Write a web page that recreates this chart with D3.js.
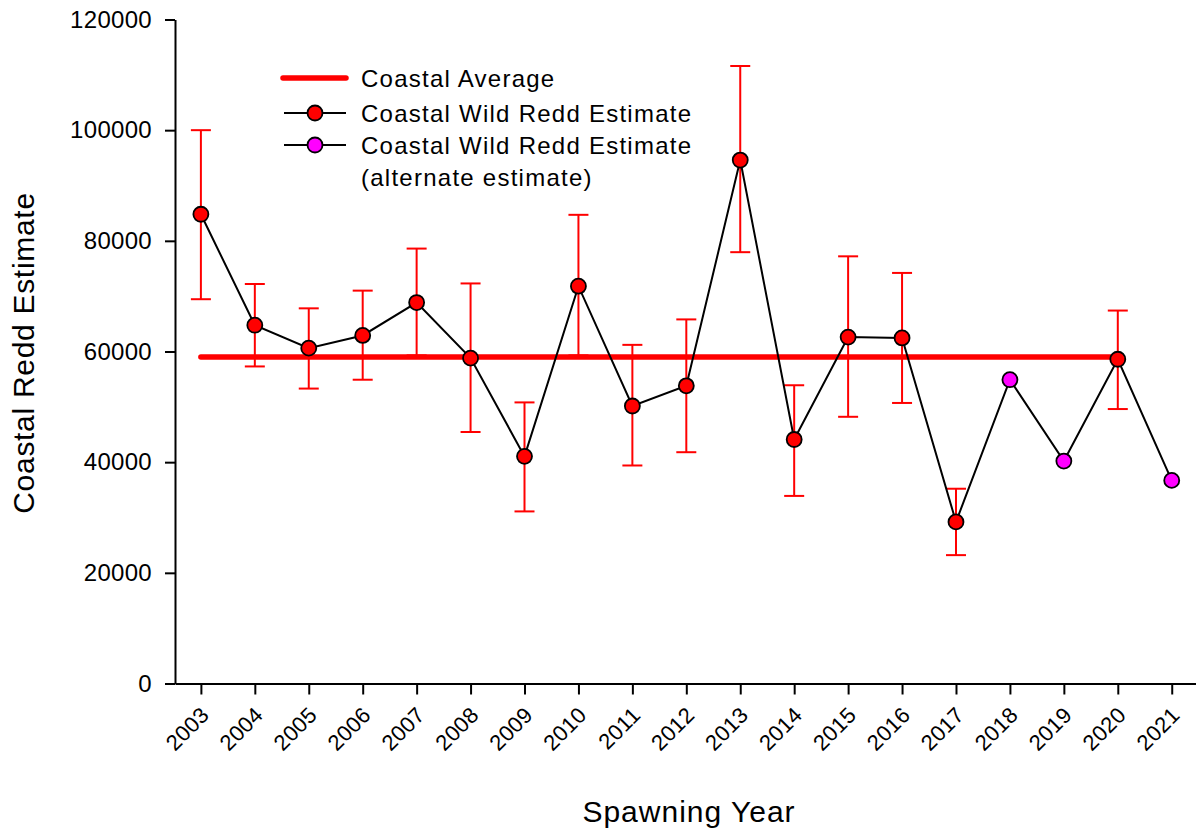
<!DOCTYPE html>
<html>
<head>
<meta charset="utf-8">
<script src="https://cdn.jsdelivr.net/npm/d3@7"></script>
<style>
  body { margin: 0; background: #fff; }
  svg text { font-family: "Liberation Sans", Arial, sans-serif; fill: #000; }
</style>
</head>
<body>
<div id="graphRender"></div>
<script>
// values
var years     = [2003, 2004, 2005, 2006, 2007, 2008, 2009, 2010, 2011, 2012, 2013, 2014, 2015, 2016, 2017, 2018, 2019, 2020, 2021];
var estimate  = [84800, 64750, 60600, 62900, 68850, 58800, 41050, 71800, 50150, 53800, 94600, 44100, 62600, 62450, 29200, 54900, 40200, 58600, 36700];
var upper     = [100000, 72200, 67800, 71000, 78600, 72300, 50800, 84700, 61200, 65800, 111600, 53900, 77200, 74200, 35200, null, null, 67400, null];
var lower     = [69450, 57300, 53300, 54900, 59300, 45450, 31100, 59300, 39400, 41800, 77950, 33900, 48200, 50700, 23200, null, null, 49600, null];
var alternate = [false, false, false, false, false, false, false, false, false, false, false, false, false, false, false, true, true, false, true];
var average = 59000;
var avgYears = [2003, 2020];
var yTicks = [0, 20000, 40000, 60000, 80000, 100000, 120000];
var legendLabels = ["Coastal Average", "Coastal Wild Redd Estimate", "Coastal Wild Redd Estimate", "(alternate estimate)"];

var data = years.map(function(y, i) {
    return {year: y, value: estimate[i], hi: upper[i], lo: lower[i], alt: alternate[i]};
});

// set the dimensions and margins of the graph
var margin = {top: 19.5, right: 0, bottom: 147.5, left: 175},
    width = 1196 - margin.left - margin.right,
    height = 831 - margin.top - margin.bottom;

var svg = d3.select("#graphRender")
  .append("svg")
    .attr("width", width + margin.left + margin.right)
    .attr("height", height + margin.top + margin.bottom)
  .append("g")
    .attr("transform", "translate(" + margin.left + "," + margin.top + ")");

var x = d3.scaleLinear()
    .domain([2002.52, 2021.45])
    .range([0, width]);

var y = d3.scaleLinear()
    .domain([0, 120000])
    .range([height, 0]);

// X axis
var xAxis = svg.append("g")
    .attr("transform", "translate(0," + height + ")")
    .call(d3.axisBottom(x).tickValues(years).tickFormat(d3.format("d")).tickSize(11).tickSizeOuter(0));
xAxis.selectAll("text")
    .style("text-anchor", "end")
    .attr("font-size", "22px")
    .attr("letter-spacing", "0.3px")
    .attr("dy", null)
    .attr("y", null)
    .attr("transform", "translate(9,33) rotate(-45)");

// Y axis
var yAxis = svg.append("g")
    .call(d3.axisLeft(y).tickValues(yTicks).tickFormat(d3.format("d")).tickSize(10).tickPadding(13).tickSizeOuter(0));
yAxis.selectAll("text").attr("font-size", "24px").attr("letter-spacing", "0.3px");

svg.selectAll(".domain, .tick line")
    .attr("stroke", "#000")
    .attr("stroke-width", 2);

// average line
svg.append("line")
    .attr("x1", x(avgYears[0]))
    .attr("x2", x(avgYears[1]))
    .attr("y1", y(average))
    .attr("y2", y(average))
    .attr("stroke", "#ff0000")
    .attr("stroke-width", 5.5)
    .attr("stroke-linecap", "round");

// error bars
var withBars = data.filter(function(d) { return d.hi !== null; });
var bars = svg.selectAll(".errbar")
    .data(withBars)
    .enter()
    .append("g")
    .attr("class", "errbar")
    .attr("stroke", "#ff0000")
    .attr("stroke-width", 2);
bars.append("line")
    .attr("x1", function(d) { return x(d.year); })
    .attr("x2", function(d) { return x(d.year); })
    .attr("y1", function(d) { return y(d.hi); })
    .attr("y2", function(d) { return y(d.lo); });
bars.append("line")
    .attr("x1", function(d) { return x(d.year) - 10; })
    .attr("x2", function(d) { return x(d.year) + 10; })
    .attr("y1", function(d) { return y(d.hi); })
    .attr("y2", function(d) { return y(d.hi); });
bars.append("line")
    .attr("x1", function(d) { return x(d.year) - 10; })
    .attr("x2", function(d) { return x(d.year) + 10; })
    .attr("y1", function(d) { return y(d.lo); })
    .attr("y2", function(d) { return y(d.lo); });

// connecting line
var line = d3.line()
    .x(function(d) { return x(d.year); })
    .y(function(d) { return y(d.value); });
svg.append("path")
    .datum(data)
    .attr("d", line)
    .attr("fill", "none")
    .attr("stroke", "#000")
    .attr("stroke-width", 2);

// points
svg.selectAll(".pt")
    .data(data)
    .enter()
    .append("circle")
    .attr("class", "pt")
    .attr("cx", function(d) { return x(d.year); })
    .attr("cy", function(d) { return y(d.value); })
    .attr("r", 7.5)
    .attr("fill", function(d) { return d.alt ? "#ff00ff" : "#ff0000"; })
    .attr("stroke", "#000")
    .attr("stroke-width", 1.8);

// legend
var legend = d3.select("svg").append("g");
var rowY = [78, 113, 145, 177];
legend.append("line")
    .attr("x1", 283).attr("x2", 346)
    .attr("y1", rowY[0]).attr("y2", rowY[0])
    .attr("stroke", "#ff0000").attr("stroke-width", 5.5).attr("stroke-linecap", "round");
[1, 2].forEach(function(i) {
    legend.append("line")
        .attr("x1", 284).attr("x2", 346)
        .attr("y1", rowY[i]).attr("y2", rowY[i])
        .attr("stroke", "#000").attr("stroke-width", 2);
    legend.append("circle")
        .attr("cx", 315).attr("cy", rowY[i]).attr("r", 7.5)
        .attr("fill", i === 1 ? "#ff0000" : "#ff00ff")
        .attr("stroke", "#000").attr("stroke-width", 1.8);
});
legend.selectAll(".legtext")
    .data(legendLabels)
    .enter()
    .append("text")
    .attr("class", "legtext")
    .attr("x", 361)
    .attr("y", function(d, i) { return rowY[i] + 9; })
    .attr("font-size", "24px")
    .attr("letter-spacing", "1.25px")
    .text(function(d) { return d; });

// text label for the x axis
d3.select("svg").append("text")
    .attr("x", 689)
    .attr("y", 822)
    .style("text-anchor", "middle")
    .attr("font-size", "30px")
    .attr("letter-spacing", "1px")
    .text("Spawning Year");

// text label for the y axis
d3.select("svg").append("text")
    .attr("transform", "translate(34,353) rotate(-90)")
    .style("text-anchor", "middle")
    .attr("font-size", "30px")
    .attr("letter-spacing", "0.7px")
    .text("Coastal Redd Estimate");
</script>
</body>
</html>
